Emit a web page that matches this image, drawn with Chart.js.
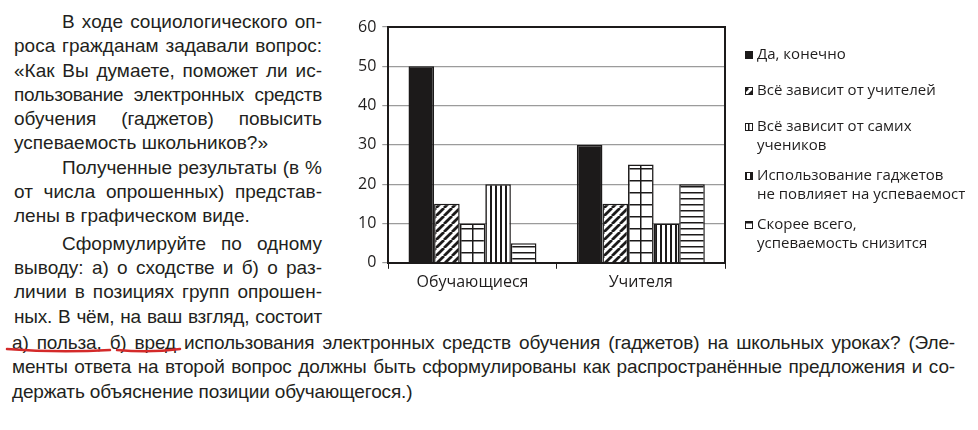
<!DOCTYPE html>
<html lang="ru">
<head>
<meta charset="utf-8">
<script src="https://cdn.jsdelivr.net/npm/chart.js@4.4.1/dist/chart.umd.min.js"></script>
<style>
  html, body { margin: 0; padding: 0; background: #fff; }
  body { width: 978px; height: 430px; position: relative; overflow: hidden; color: #231f20; }
  .txt { position: absolute; font-family: 'Liberation Sans', Arial, sans-serif; font-size: 19px; line-height: 24.3px; }
  .txt div { text-align: justify; text-align-last: justify; }
  .txt div.last { text-align-last: left; }
  .txt div.ind { text-indent: 48px; }
  #left { left: 14px; top: 10px; width: 308px; }
  #bottom { left: 12px; top: 331px; width: 943px; letter-spacing: -0.15px; }
  #chartBox { position: absolute; left: 340px; top: 0; width: 626px; height: 300px; }
  #marks { position: absolute; left: 0; top: 0; }
</style>
</head>
<body>
<div id="left" class="txt">
  <div class="ind">В ходе социологического оп-</div>
  <div>роса гражданам задавали вопрос:</div>
  <div>«Как Вы думаете, поможет ли ис-</div>
  <div style="letter-spacing:-0.3px">пользование электронных средств</div>
  <div>обучения (гаджетов) повысить</div>
  <div class="last">успеваемость школьников?»</div>
  <div class="ind">Полученные результаты (в %</div>
  <div>от числа опрошенных) представ-</div>
  <div class="last">лены в графическом виде.</div>
  <div class="ind" style="margin-top:3px">Сформулируйте по одному</div>
  <div>выводу: а) о сходстве и б) о раз-</div>
  <div>личии в позициях групп опрошен-</div>
  <div style="letter-spacing:-0.2px">ных. В чём, на ваш взгляд, состоит</div>
</div>
<div id="bottom" class="txt">
  <div>а) польза, б) вред использования электронных средств обучения (гаджетов) на школьных уроках? (Эле-</div>
  <div>менты ответа на второй вопрос должны быть сформулированы как распространённые предложения и со-</div>
  <div class="last">держать объяснение позиции обучающегося.)</div>
</div>
<svg id="marks" width="978" height="430">
  <path d="M7 349 Q58 353 110 350" stroke="#d42a2a" stroke-width="2.5" fill="none" stroke-linecap="round"/>
  <path d="M117 350 Q150 353 180 349" stroke="#d42a2a" stroke-width="2.5" fill="none" stroke-linecap="round"/>
</svg>
<div id="chartBox"><canvas id="c"></canvas></div>
<script>
const categories = ['Обучающиеся', 'Учителя'];
const seriesNames = [
  ['Да, конечно'],
  ['Всё зависит от учителей'],
  ['Всё зависит от самих', 'учеников'],
  ['Использование гаджетов', 'не повлияет на успеваемость'],
  ['Скорее всего,', 'успеваемость снизится']
];
const yesSure = [50, 30];
const dependsOnTeachers = [15, 15];
const dependsOnStudents = [10, 25];
const noEffect = [20, 10];
const willDrop = [5, 20];
const yTicks = [0, 10, 20, 30, 40, 50, 60];

const INK = '#1c1a1a';

// hatch fills for the bars
function makePattern(kind) {
  const c = document.createElement('canvas');
  const g = c.getContext('2d');
  let w = 8, h = 8;
  if (kind === 'grid') { w = 12; h = 12; }
  if (kind === 'vert') { w = 5; h = 5; }
  if (kind === 'horiz') { w = 6; h = 6; }
  c.width = w; c.height = h;
  g.fillStyle = '#fff';
  g.fillRect(0, 0, w, h);
  g.strokeStyle = INK;
  g.fillStyle = INK;
  if (kind === 'diag') {
    g.lineWidth = 2.8;
    g.beginPath();
    for (let k = -1; k <= 1; k++) {
      g.moveTo(k * w, h);
      g.lineTo(k * w + w, 0);
    }
    g.stroke();
  } else if (kind === 'grid') {
    g.fillRect(0, 0, w, 1.5);
    g.fillRect(0, 0, 1.5, h);
  } else if (kind === 'vert') {
    g.fillRect(0, 0, 2, h);
  } else if (kind === 'horiz') {
    g.fillRect(0, 0, w, 1.5);
  }
  return g.createPattern(c, 'repeat');
}

const fills = [INK, makePattern('diag'), makePattern('grid'), makePattern('vert'), makePattern('horiz')];
const seriesValues = [yesSure, dependsOnTeachers, dependsOnStudents, noEffect, willDrop];

const datasets = seriesValues.map((vals, i) => ({
  label: seriesNames[i].join(' '),
  data: vals,
  backgroundColor: fills[i],
  borderColor: INK,
  borderWidth: 1.5,
  categoryPercentage: 0.76,
  barPercentage: 1.0
}));

// frame around the plot area (top and right edges)
const frame = {
  id: 'frame',
  afterDatasetsDraw(chart) {
    const { ctx, chartArea: a } = chart;
    ctx.save();
    ctx.strokeStyle = INK;
    ctx.lineWidth = 2;
    ctx.beginPath();
    ctx.moveTo(a.left, a.top);
    ctx.lineTo(a.right, a.top);
    ctx.lineTo(a.right, a.bottom);
    ctx.stroke();
    ctx.restore();
  }
};

// legend on the right, multi-line labels
const sideLegend = {
  id: 'sideLegend',
  afterDraw(chart) {
    const { ctx, chartArea: a } = chart;
    const x = a.right + 20;
    let y = 55;
    ctx.save();
    ctx.font = '15px "Open Sans", sans-serif';
    ctx.textBaseline = 'middle';
    seriesNames.forEach((lines, i) => {
      ctx.fillStyle = fills[i];
      ctx.fillRect(x, y - 4, 8, 8);
      ctx.strokeStyle = INK;
      ctx.lineWidth = 1;
      ctx.strokeRect(x + 0.5, y - 3.5, 7, 7);
      ctx.fillStyle = '#1f1d1d';
      lines.forEach((t, k) => ctx.fillText(t, x + 12, y + k * 18.5));
      y += 36 + 13 * (lines.length - 1);
    });
    ctx.restore();
  }
};

new Chart(document.getElementById('c'), {
  type: 'bar',
  data: { labels: categories, datasets: datasets },
  options: {
    responsive: true,
    maintainAspectRatio: false,
    animation: false,
    layout: { padding: { left: 12, right: 241, top: 27, bottom: 4 } },
    plugins: { legend: { display: false }, tooltip: { enabled: false } },
    scales: {
      x: {
        grid: { offset: true, drawOnChartArea: false, color: INK, tickLength: 6, lineWidth: 1 },
        border: { color: INK, width: 2 },
        ticks: { color: '#1f1d1d', font: { family: 'Open Sans', size: 16 }, padding: 4 }
      },
      y: {
        min: 0,
        max: 60,
        afterBuildTicks(scale) { scale.ticks = yTicks.map(v => ({ value: v })); },
        grid: { color: '#9b9b9b', lineWidth: 1.2, tickLength: 6 },
        border: { color: INK, width: 2 },
        ticks: { color: '#1f1d1d', font: { family: 'Open Sans', size: 16 }, padding: 6 }
      }
    }
  },
  plugins: [frame, sideLegend]
});
</script>
</body>
</html>
